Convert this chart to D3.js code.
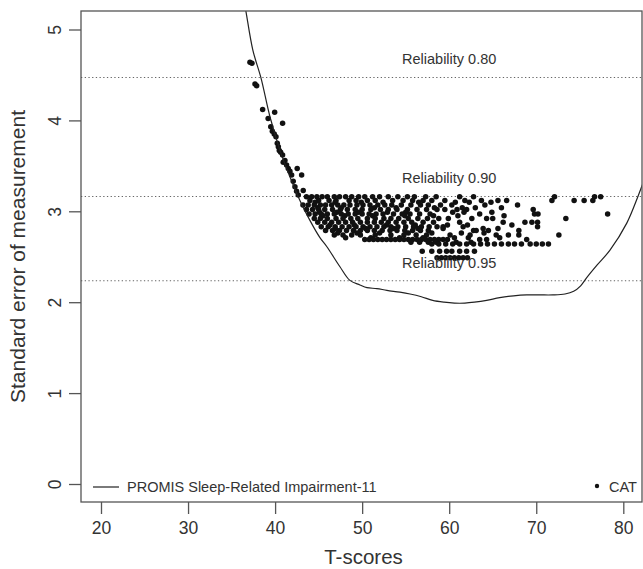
<!DOCTYPE html>
<html>
<head>
<meta charset="utf-8">
<script src="https://cdn.jsdelivr.net/npm/d3@7/dist/d3.min.js"></script>
<style>
  html, body { margin: 0; padding: 0; background: #fff; }
  svg { display: block; }
  text { font-family: "Liberation Sans", Arial, Helvetica, sans-serif; }
</style>
</head>
<body>
<svg id="chart" width="643" height="569"></svg>
<script>
// ---------------- DATA ----------------
const xTicks = [20, 30, 40, 50, 60, 70, 80];
const yTicks = [0, 1, 2, 3, 4, 5];
const reliabilities = [0.80, 0.90, 0.95];
const reliabilityLabels = ["Reliability 0.80", "Reliability 0.90", "Reliability 0.95"];
const xTitle = "T-scores";
const yTitle = "Standard error of measurement";
const legendLine = "PROMIS Sleep-Related Impairment-11";
const legendDot = "CAT";

// Fixed-form SEM curve (T-score, SEM)
const curveT   = [36.2, 36.65, 37.45, 38.37, 39.41, 40.56, 41.7, 42.85, 44.0, 45.15, 45.95, 47.45, 48.59, 49.74, 50.55, 51.69, 52.84, 54.34, 55.5, 56.8, 58.1, 59.4, 60.6, 61.8, 62.9, 64.3, 65.8, 67.4, 68.9, 70.4, 71.9, 73.3, 74.3, 75.1, 75.8, 77.0, 78.45, 80.4, 81.67, 82.6];
const curveSEM = [5.45, 5.20, 4.77, 4.47, 4.04, 3.67, 3.38, 3.12, 2.90, 2.71, 2.61, 2.39, 2.24, 2.19, 2.16, 2.15, 2.13, 2.11, 2.09, 2.06, 2.02, 2.00, 1.99, 1.99, 2.00, 2.02, 2.05, 2.07, 2.08, 2.08, 2.08, 2.09, 2.12, 2.18, 2.27, 2.41, 2.57, 2.87, 3.16, 3.40];

// CAT points: left steep section (T, SEM)
const catSteepT   = [37.11, 37.34, 37.69, 37.88, 38.57, 39.2, 39.95, 40.86, 39.5, 39.68, 39.9, 40.1, 40.25, 40.37, 40.48, 40.64, 40.86, 41.13, 40.93, 41.32, 41.51, 42.54, 41.7, 41.9, 43.05, 42.08, 42.28, 43.23, 42.47, 42.66];
const catSteepSEM = [4.64, 4.63, 4.40, 4.38, 4.12, 4.02, 4.09, 3.97, 3.93, 3.88, 3.85, 3.82, 3.75, 3.71, 3.67, 3.65, 3.62, 3.56, 3.54, 3.51, 3.47, 3.47, 3.44, 3.40, 3.40, 3.33, 3.27, 3.23, 3.22, 3.18];

// CAT points in the main band, grouped by SEM level
const catRowSEM = [3.16, 3.12, 3.10, 3.07, 3.04, 3.02, 2.99, 2.97, 2.95, 2.92, 2.88, 2.85, 2.83, 2.81, 2.79, 2.76, 2.74, 2.71, 2.69, 2.66, 2.64, 2.56, 2.49];
const catRowT = [
  [43.6, 44.2, 44.8, 45.4, 46.0, 46.8, 47.4, 48.1, 48.8, 49.6, 50.3, 51.2, 52.0, 53.0, 54.1, 55.2, 56.0, 57.3, 58.5, 61.2, 62.8, 72.1, 76.7, 77.4],
  [44.0, 45.0, 46.2, 47.0, 48.5, 49.3, 50.6, 51.5, 53.5, 54.7, 55.8, 57.0, 58.0, 59.5, 61.8, 63.7, 65.6, 66.6, 71.8, 74.35, 75.5, 76.5],
  [44.6, 46.9, 49.9, 52.4, 56.5, 60.7, 62.3, 64.8],
  [43.2, 43.8, 44.5, 45.2, 45.8, 46.5, 47.2, 47.9, 48.6, 49.4, 50.1, 50.9, 51.8, 52.6, 53.4, 54.5, 55.6, 56.7, 57.6, 59.0, 60.3, 64.1, 67.85],
  [44.9, 47.6, 51.4, 53.9, 58.3, 61.5, 63.0, 66.0],
  [43.6, 44.3, 45.0, 45.7, 46.6, 47.5, 48.3, 49.2, 50.0, 51.0, 52.1, 53.0, 54.0, 55.2, 56.3, 57.4, 58.6, 59.5, 60.9, 62.0, 69.65],
  [45.1, 47.1, 49.6, 52.9, 55.0, 60.4, 61.7, 64.9],
  [43.9, 44.6, 45.3, 46.0, 46.8, 47.6, 48.4, 49.2, 50.0, 50.8, 51.6, 52.4, 53.6, 54.6, 55.5, 56.6, 57.8, 63.5, 69.8, 70.2, 78.2],
  [45.5, 48.0, 51.2, 54.9, 58.2, 61.0, 66.3],
  [44.5, 45.2, 46.0, 47.0, 47.8, 48.7, 49.5, 50.6, 51.5, 52.5, 53.3, 54.2, 55.3, 56.4, 57.5, 58.8, 59.9, 62.6, 64.3, 65.0, 73.4],
  [44.9, 45.7, 46.5, 47.3, 48.1, 48.9, 49.8, 50.6, 51.4, 52.2, 53.0, 53.9, 54.8, 55.7, 57.0, 58.2, 61.2, 66.2, 68.7, 69.5, 70.15],
  [46.3, 49.1, 52.8, 56.1, 59.8, 62.1, 67.2],
  [45.3, 46.1, 46.9, 47.7, 48.5, 49.3, 50.1, 50.9, 51.7, 52.5, 53.3, 54.1, 55.0, 55.9, 56.8, 57.7, 58.6, 59.3, 61.6, 70.15],
  [46.9, 50.4, 53.6, 56.4, 59.3, 63.9, 65.6],
  [45.8, 46.6, 47.4, 48.2, 49.0, 49.8, 50.6, 51.4, 52.3, 53.2, 54.0, 54.9, 55.8, 56.7, 57.6, 62.8, 63.1, 64.5, 68.0],
  [47.2, 49.4, 52.0, 55.3, 58.0, 61.4, 64.0],
  [46.8, 47.8, 48.8, 49.8, 51.5, 53.3, 54.8, 56.2, 57.4, 60.1, 62.4, 65.4, 66.8, 68.0, 72.6],
  [48.1, 51.0, 54.3, 57.0, 60.6, 62.2, 65.8],
  [50.3, 50.8, 51.3, 51.8, 52.3, 52.8, 53.3, 53.8, 54.3, 54.8, 55.3, 55.8, 56.3, 56.8, 57.3, 57.8, 58.3, 58.8, 59.3, 59.8, 63.5, 64.3, 68.9],
  [55.6, 56.6, 57.6, 58.5, 60.8, 62.5],
  [58.0, 58.8, 59.6, 60.4, 61.2, 62.0, 62.8, 63.6, 64.4, 65.2, 66.0, 66.8, 67.5, 68.3, 69.3, 70.0, 70.7, 71.4],
  [56.9, 58.0, 58.9, 59.7, 60.3, 61.2, 62.0, 62.9],
  [58.6, 59.1, 59.6, 60.1, 60.6, 61.1, 61.6, 62.1]
];

// ---------------- LAYOUT ----------------
const box = { left: 81, right: 642, top: 11, bottom: 502 };
const svg = d3.select("#chart");

const x = d3.scaleLinear().domain([20, 80]).range([101, 623.3]);
const y = d3.scaleLinear().domain([0, 5]).range([484, 29.5]);

const axisColor = "#555";
const textColor = "#333";

svg.append("defs").append("clipPath").attr("id", "plotclip")
  .append("rect")
  .attr("x", box.left).attr("y", box.top)
  .attr("width", box.right - box.left).attr("height", box.bottom - box.top);

// Reliability reference lines
const semOf = r => 10 * Math.sqrt(1 - r);
const relG = svg.append("g");
reliabilities.forEach((r, i) => {
  relG.append("line")
    .attr("x1", box.left).attr("x2", box.right)
    .attr("y1", y(semOf(r))).attr("y2", y(semOf(r)))
    .attr("stroke", "#666").attr("stroke-width", 1.1)
    .attr("stroke-dasharray", "1.3,2.4");
});

// CAT points
const catPoints = [];
catSteepT.forEach((t, i) => catPoints.push([t, catSteepSEM[i]]));
catRowSEM.forEach((s, i) => catRowT[i].forEach(t => catPoints.push([t, s])));

svg.append("g").attr("clip-path", "url(#plotclip)")
  .selectAll("circle").data(catPoints).join("circle")
  .attr("cx", d => x(d[0])).attr("cy", d => y(d[1]))
  .attr("r", 2.75).attr("fill", "#111");

// Reliability labels (drawn over points)
reliabilities.forEach((r, i) => {
  svg.append("text")
    .attr("x", x(60)).attr("y", y(semOf(r) + 0.2))
    .attr("text-anchor", "middle").attr("dominant-baseline", "central")
    .attr("font-size", 14.5).attr("fill", textColor)
    .text(reliabilityLabels[i]);
});

// SEM curve
const curveData = curveT.map((t, i) => [t, curveSEM[i]]);
svg.append("path")
  .datum(curveData)
  .attr("clip-path", "url(#plotclip)")
  .attr("d", d3.line().x(d => x(d[0])).y(d => y(d[1])).curve(d3.curveCatmullRom.alpha(0.5)))
  .attr("fill", "none").attr("stroke", "#222").attr("stroke-width", 1.2);

// Box
svg.append("rect")
  .attr("x", box.left).attr("y", box.top)
  .attr("width", box.right - box.left).attr("height", box.bottom - box.top)
  .attr("fill", "none").attr("stroke", axisColor).attr("stroke-width", 1.3);

// X axis
const xAxis = d3.axisBottom(x).tickValues(xTicks).tickSize(12).tickPadding(8).tickFormat(d3.format("d"));
const gx = svg.append("g").attr("transform", `translate(0,${box.bottom})`).call(xAxis);
gx.select(".domain").remove();
gx.selectAll(".tick line").attr("stroke", axisColor).attr("stroke-width", 1.3);
gx.selectAll(".tick text").attr("font-size", 17.5).attr("fill", textColor)
  .attr("font-family", "'Liberation Sans', Arial, sans-serif");

// Y axis
const yAxis = d3.axisLeft(y).tickValues(yTicks).tickSize(12).tickPadding(0).tickFormat(d3.format("d"));
const gy = svg.append("g").attr("transform", `translate(${box.left},0)`).call(yAxis);
gy.select(".domain").remove();
gy.selectAll(".tick line").attr("stroke", axisColor).attr("stroke-width", 1.3);
gy.selectAll(".tick text")
  .attr("font-size", 17.5).attr("fill", textColor)
  .attr("font-family", "'Liberation Sans', Arial, sans-serif")
  .attr("x", null).attr("dy", null)
  .attr("text-anchor", "middle").attr("dominant-baseline", "central")
  .attr("transform", "translate(-26,0) rotate(-90)");

// Axis titles
svg.append("text")
  .attr("x", (box.left + box.right) / 2 + 2).attr("y", 564)
  .attr("text-anchor", "middle").attr("font-size", 20.5).attr("fill", textColor)
  .text(xTitle);
svg.append("text")
  .attr("transform", `translate(25,${(box.top + box.bottom) / 2}) rotate(-90)`)
  .attr("text-anchor", "middle").attr("font-size", 21).attr("fill", textColor)
  .text(yTitle);

// Legend
const legY = 487;
svg.append("line").attr("x1", 93).attr("x2", 119).attr("y1", legY).attr("y2", legY)
  .attr("stroke", "#222").attr("stroke-width", 1.2);
svg.append("text").attr("x", 127).attr("y", legY).attr("dominant-baseline", "central")
  .attr("font-size", 14.5).attr("fill", textColor).text(legendLine);
svg.append("circle").attr("cx", 597).attr("cy", legY - 1).attr("r", 2.2).attr("fill", "#111");
svg.append("text").attr("x", 609).attr("y", legY).attr("dominant-baseline", "central")
  .attr("font-size", 14.5).attr("fill", textColor).text(legendDot);
</script>
</body>
</html>
